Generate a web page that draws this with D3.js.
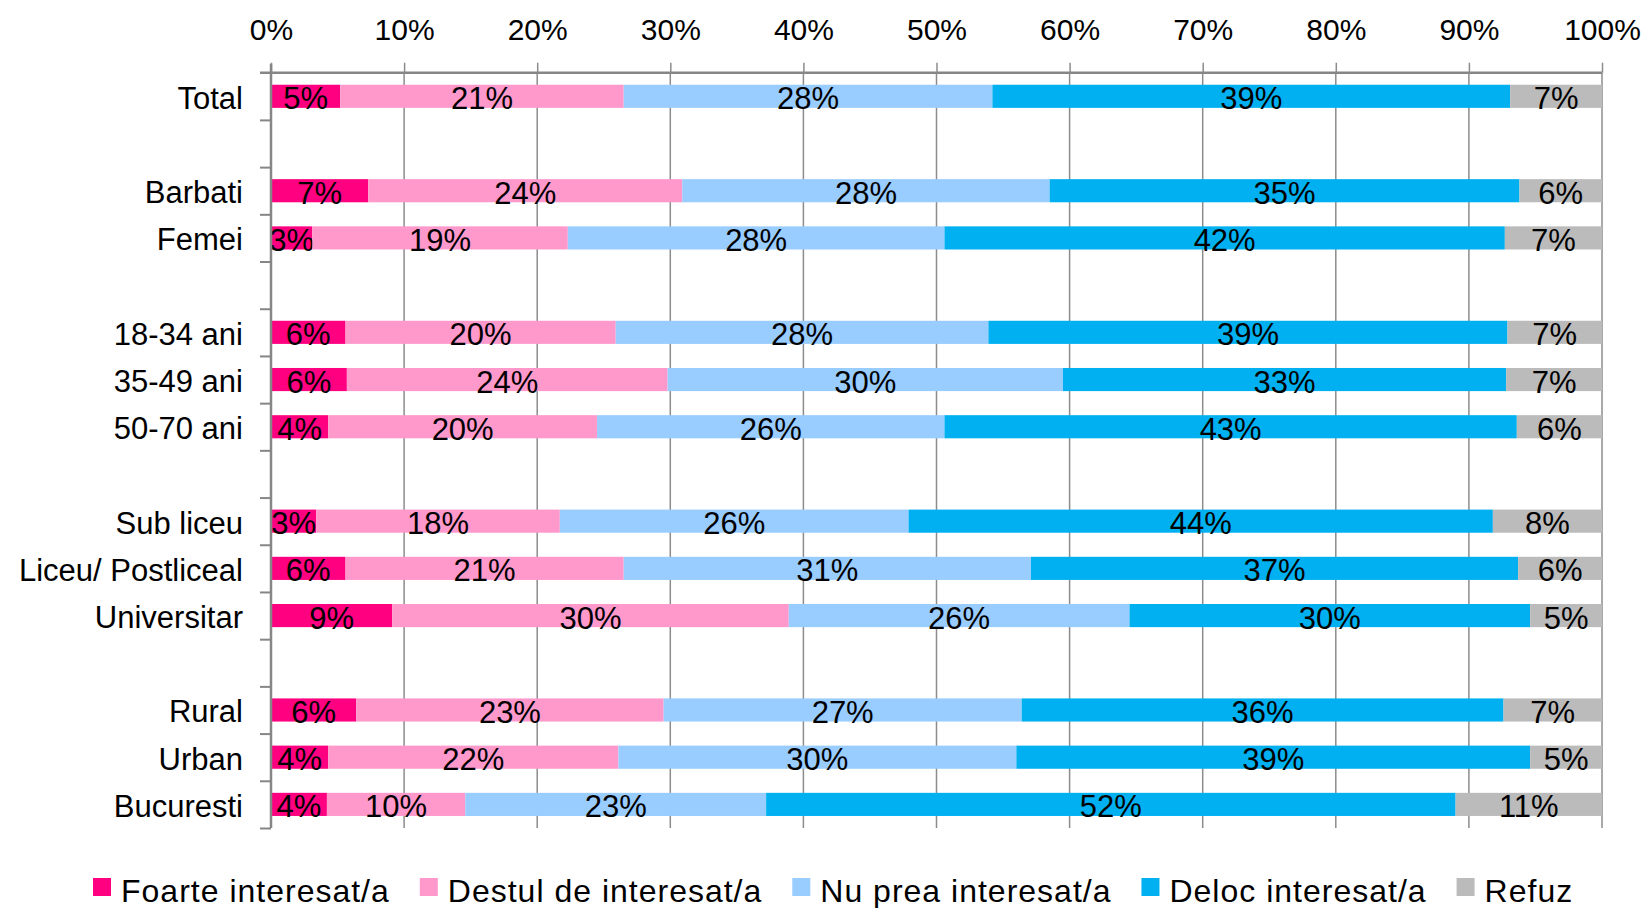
<!DOCTYPE html>
<html>
<head>
<meta charset="utf-8">
<script src="https://cdn.jsdelivr.net/npm/d3@7"></script>
<style>
  html, body { margin: 0; padding: 0; background: #fff; }
  svg { display: block; font-family: "Liberation Sans", Arial, sans-serif; }
</style>
</head>
<body>
<svg id="chart" width="1648" height="908"></svg>
<script>
const categories = ["Total", "", "Barbati", "Femei", "", "18-34 ani", "35-49 ani", "50-70 ani", "",
  "Sub liceu", "Liceu/ Postliceal", "Universitar", "", "Rural", "Urban", "Bucuresti"];
const seriesNames = ["Foarte interesat/a", "Destul de interesat/a", "Nu prea interesat/a", "Deloc interesat/a", "Refuz"];
const foarte = [5.2, null, 7.3, 3.1, null, 5.6, 5.7, 4.3, null, 3.4, 5.6, 9.1, null, 6.4, 4.3, 4.2];
const destul = [21.3, null, 23.6, 19.2, null, 20.3, 24.1, 20.2, null, 18.3, 20.9, 29.8, null, 23.1, 21.8, 10.4];
const nuPrea = [27.7, null, 27.6, 28.3, null, 28.0, 29.7, 26.1, null, 26.2, 30.6, 25.6, null, 26.9, 29.9, 22.6];
const deloc  = [38.9, null, 35.3, 42.1, null, 39.0, 33.3, 43.0, null, 43.9, 36.6, 30.1, null, 36.2, 38.6, 51.8];
const refuz  = [6.9, null, 6.2, 7.3, null, 7.1, 7.2, 6.4, null, 8.2, 6.3, 5.4, null, 7.4, 5.4, 11.0];
const xTicks = [0, 10, 20, 30, 40, 50, 60, 70, 80, 90, 100];
const colors = ["#FF0080", "#FF99CC", "#99CCFF", "#00B0F0", "#BBBBBB"];

const svg = d3.select("#chart");
const plotLeft = 271, plotRight = 1602, plotTop = 72.7, plotBottom = 828;

const seriesArrays = [foarte, destul, nuPrea, deloc, refuz];
const rows = categories.map((c, i) => {
  const o = { idx: i, cat: c, spacer: foarte[i] === null };
  seriesNames.forEach((s, k) => o[s] = seriesArrays[k][i] === null ? 0 : seriesArrays[k][i]);
  return o;
});

const x = d3.scaleLinear().domain([0, 100]).range([plotLeft, plotRight]);
const y = d3.scaleBand().domain(d3.range(categories.length)).range([plotTop, plotBottom])
  .paddingInner(0.51).paddingOuter(0.255);
const yEdge = d3.scaleLinear().domain([0, categories.length]).range([plotTop, plotBottom]);
const color = d3.scaleOrdinal().domain(seriesNames).range(colors);

// gridlines
svg.append("g").selectAll("line").data(xTicks).join("line")
  .attr("x1", d => x(d)).attr("x2", d => x(d))
  .attr("y1", plotTop).attr("y2", plotBottom)
  .attr("stroke", "#8c8c8c").attr("stroke-width", 1.5);

// bars (normalised to 100%)
const stacked = d3.stack().keys(seriesNames).offset(d3.stackOffsetExpand)(rows.filter(r => !r.spacer));
const xp = d3.scaleLinear().domain([0, 1]).range([plotLeft, plotRight]);
const layers = svg.append("g").selectAll("g").data(stacked).join("g")
  .attr("fill", d => color(d.key));
layers.selectAll("rect").data(d => d).join("rect")
  .attr("x", d => xp(d[0]))
  .attr("width", d => xp(d[1]) - xp(d[0]))
  .attr("y", d => y(d.data.idx))
  .attr("height", y.bandwidth());

// top axis
const xAxis = svg.append("g").attr("transform", `translate(0,${plotTop})`)
  .call(d3.axisTop(x).tickValues(xTicks).tickFormat(d => d + "%").tickSize(10).tickSizeOuter(0));
xAxis.select(".domain").attr("stroke", "#868686").attr("stroke-width", 2.5)
  .attr("d", `M${plotLeft - 11},0H${plotRight}`);
xAxis.selectAll(".tick line").attr("stroke", "#8c8c8c").attr("stroke-width", 1.5);
xAxis.selectAll(".tick text").attr("font-size", 30).attr("fill", "#000")
  .attr("font-family", "'Liberation Sans', Arial, sans-serif").attr("dy", 0).attr("y", -33);

// left axis with boundary ticks
const yAxis = svg.append("g").attr("transform", `translate(${plotLeft},0)`)
  .call(d3.axisLeft(yEdge).tickValues(d3.range(1, categories.length + 1)).tickFormat("").tickSize(11).tickSizeOuter(0));
yAxis.select(".domain").attr("stroke", "#868686").attr("stroke-width", 2.5)
  .attr("d", `M0,${plotTop - 9}V${plotBottom}`);
yAxis.selectAll(".tick line").attr("stroke", "#868686").attr("stroke-width", 2);

// category labels
svg.append("g").selectAll("text").data(rows.filter(r => !r.spacer)).join("text")
  .attr("x", 243)
  .attr("y", d => y(d.idx) + y.bandwidth() / 2 + 12.5)
  .attr("text-anchor", "end")
  .attr("font-size", 31)
  .attr("fill", "#000")
  .text(d => d.cat);

// data labels
const fmt = d => d3.format(".0f")(d) + "%";
layers.selectAll("text").data(d => d.map(v => ({ v, key: d.key }))).join("text")
  .attr("x", d => (xp(d.v[0]) + xp(d.v[1])) / 2)
  .attr("y", d => y(d.v.data.idx) + y.bandwidth() / 2 + 13)
  .attr("text-anchor", "middle")
  .attr("font-size", 31)
  .attr("fill", "#000")
  .text(d => fmt(d.v.data[d.key]));

// legend
const legend = svg.append("g").attr("transform", "translate(93,0)");
let lx = 0;
seriesNames.forEach(name => {
  const g = legend.append("g").attr("transform", `translate(${lx},0)`);
  g.append("rect").attr("x", 0).attr("y", 878).attr("width", 18).attr("height", 18).attr("fill", color(name));
  const t = g.append("text").attr("x", 28).attr("y", 902)
    .attr("font-size", 32).attr("letter-spacing", 1).attr("fill", "#000").text(name);
  lx += 28 + t.node().getComputedTextLength() + 30;
});
</script>
</body>
</html>
